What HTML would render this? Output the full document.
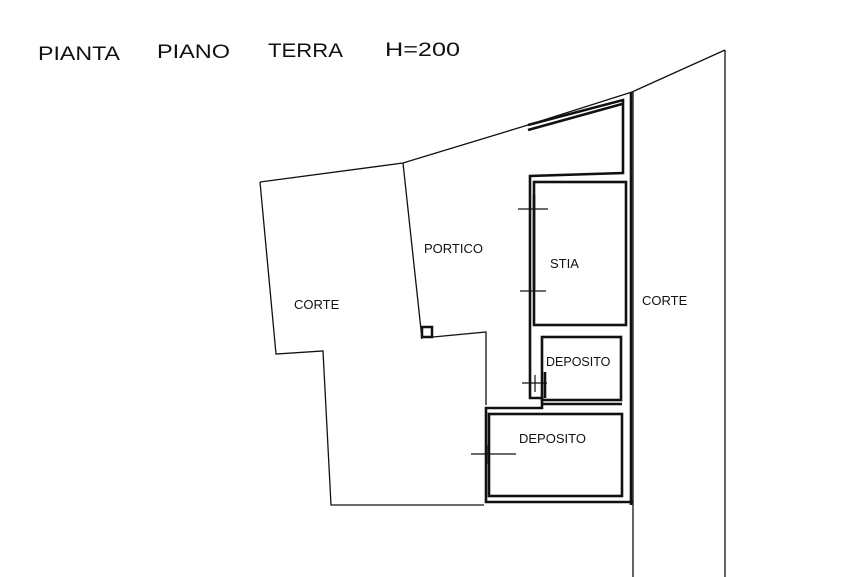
<!DOCTYPE html>
<html><head><meta charset="utf-8"><style>
body{margin:0;background:#fff;}
svg{display:block}
text{font-family:"Liberation Sans Narrow","Liberation Sans",sans-serif;fill:#111}
</style></head><body>
<svg width="855" height="577" viewBox="0 0 855 577" xmlns="http://www.w3.org/2000/svg">
<g font-size="19">
<text x="38" y="60" textLength="82" lengthAdjust="spacingAndGlyphs">PIANTA</text>
<text x="157" y="58" textLength="73" lengthAdjust="spacingAndGlyphs">PIANO</text>
<text x="268" y="57" textLength="75" lengthAdjust="spacingAndGlyphs">TERRA</text>
<text x="385" y="56" textLength="75" lengthAdjust="spacingAndGlyphs">H=200</text>
</g>
<g fill="none" stroke="#111" stroke-width="1.3">
<polyline points="260,182 403,163 528,125 632,92 725,50"/>
<polyline points="260,182 276,354 323,351 331,505 484,505"/>
<line x1="403" y1="163" x2="422" y2="339"/>
<polyline points="433,337 486,332 486,405"/>
<line x1="725" y1="50" x2="725" y2="577"/>
<line x1="633" y1="92" x2="633" y2="577"/>
</g>
<rect x="422" y="327" width="10" height="10" fill="none" stroke="#111" stroke-width="2.5"/>
<g fill="none" stroke="#111" stroke-width="2.6">
<line x1="631" y1="92" x2="631" y2="505"/>
<polyline points="528,125 623,100 623,173 530,176 530,398 542,398 542,408 486,408 486,502 633,502"/>
<polyline points="528,130 622,104"/>
<rect x="534" y="182" width="92" height="143"/>
<rect x="542" y="337" width="79" height="63"/>
<line x1="542" y1="404" x2="622" y2="404"/>
<rect x="489" y="414" width="133" height="82"/>
<line x1="534" y1="195" x2="534" y2="290"/>
<line x1="545" y1="372" x2="545" y2="398"/>
</g>
<g stroke="#111" stroke-width="1.2">
<line x1="518" y1="209" x2="548" y2="209"/><line x1="530" y1="200" x2="530" y2="218"/>
<line x1="520" y1="291" x2="546" y2="291"/><line x1="530" y1="282" x2="530" y2="300"/>
<line x1="522" y1="383" x2="547" y2="383"/><line x1="535" y1="375" x2="535" y2="392"/>
<line x1="471" y1="454" x2="516" y2="454"/><line x1="488" y1="445" x2="488" y2="464"/>
</g>
<g font-size="13">
<text x="294" y="309">CORTE</text>
<text x="424" y="253">PORTICO</text>
<text x="550" y="268">STIA</text>
<text x="642" y="305">CORTE</text>
<text x="546" y="366" font-size="12.5">DEPOSITO</text>
<text x="519" y="443">DEPOSITO</text>
</g>
</svg>
</body></html>
